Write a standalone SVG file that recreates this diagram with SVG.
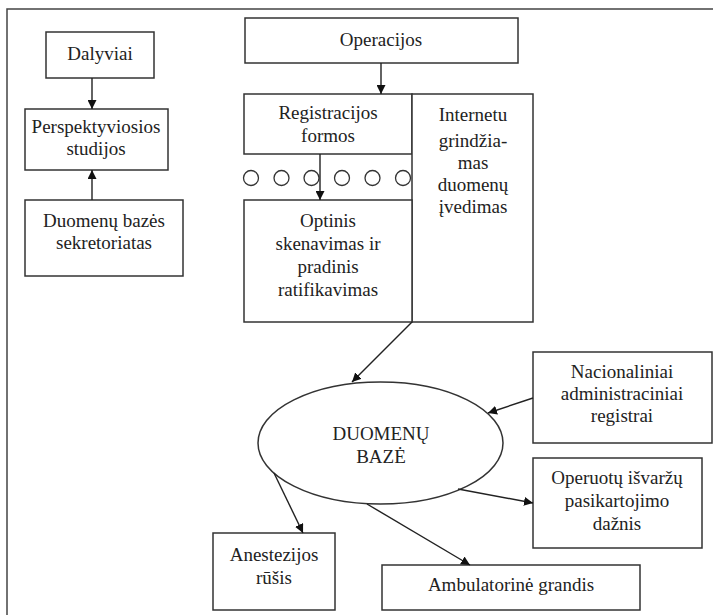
<svg xmlns="http://www.w3.org/2000/svg" width="713" height="615" viewBox="0 0 713 615">
<defs>
<marker id="ah" viewBox="0 0 10 10" refX="10" refY="5" markerWidth="9" markerHeight="9" markerUnits="userSpaceOnUse" orient="auto">
<path d="M0,0 L10,5 L0,10 z" fill="#111"/>
</marker>
</defs>
<rect width="713" height="615" fill="#fff"/>
<path d="M7,615 V9 H713" fill="none" stroke="#444" stroke-width="1.5"/>
<g fill="#fff" stroke="#333" stroke-width="1.5">
<g id="dalyviai"><rect x="46" y="32" width="108" height="46"/><text font-family="Liberation Serif" font-size="19" text-anchor="middle" fill="#222" stroke="none" x="100" y="60">Dalyviai</text></g>
<g id="perspektyviosios"><rect x="25" y="109" width="143" height="61"/><text font-family="Liberation Serif" font-size="19" text-anchor="middle" fill="#222" stroke="none" x="96" y="133">Perspektyviosios</text><text font-family="Liberation Serif" font-size="19" text-anchor="middle" fill="#222" stroke="none" x="96" y="155">studijos</text></g>
<g id="sekretoriatas"><rect x="25" y="200" width="158" height="76"/><text font-family="Liberation Serif" font-size="19" text-anchor="middle" fill="#222" stroke="none" x="104" y="227">Duomenų bazės</text><text font-family="Liberation Serif" font-size="19" text-anchor="middle" fill="#222" stroke="none" x="104" y="249">sekretoriatas</text></g>
<g id="operacijos"><rect x="245" y="18" width="273" height="45"/><text font-family="Liberation Serif" font-size="19" text-anchor="middle" fill="#222" stroke="none" x="381" y="46">Operacijos</text></g>
<g id="registracijos"><rect x="244" y="94" width="168" height="60"/><text font-family="Liberation Serif" font-size="19" text-anchor="middle" fill="#222" stroke="none" x="328" y="119">Registracijos</text><text font-family="Liberation Serif" font-size="19" text-anchor="middle" fill="#222" stroke="none" x="328" y="142">formos</text></g>
<g id="internetu"><rect x="412" y="94" width="121" height="228"/><text font-family="Liberation Serif" font-size="19" text-anchor="middle" fill="#222" stroke="none" x="473" y="121">Internetu</text><text font-family="Liberation Serif" font-size="19" text-anchor="middle" fill="#222" stroke="none" x="473" y="147">grindžia-</text><text font-family="Liberation Serif" font-size="19" text-anchor="middle" fill="#222" stroke="none" x="473" y="169">mas</text><text font-family="Liberation Serif" font-size="19" text-anchor="middle" fill="#222" stroke="none" x="473" y="191">duomenų</text><text font-family="Liberation Serif" font-size="19" text-anchor="middle" fill="#222" stroke="none" x="473" y="213">įvedimas</text></g>
<g id="juosta" fill="none" stroke-width="1.3">
<circle cx="251" cy="178" r="7.5"/><circle cx="281.5" cy="178" r="7.5"/><circle cx="311.5" cy="178" r="7.5"/><circle cx="342" cy="178" r="7.5"/><circle cx="372.5" cy="178" r="7.5"/><circle cx="403" cy="178" r="7.5"/>
</g>
<g id="optinis"><rect x="244" y="200" width="168" height="122"/><text font-family="Liberation Serif" font-size="19" text-anchor="middle" fill="#222" stroke="none" x="328" y="227">Optinis</text><text font-family="Liberation Serif" font-size="19" text-anchor="middle" fill="#222" stroke="none" x="328" y="250">skenavimas ir</text><text font-family="Liberation Serif" font-size="19" text-anchor="middle" fill="#222" stroke="none" x="328" y="273">pradinis</text><text font-family="Liberation Serif" font-size="19" text-anchor="middle" fill="#222" stroke="none" x="328" y="296">ratifikavimas</text></g>
<g id="duomenu-baze"><ellipse cx="380.5" cy="443" rx="122.5" ry="61"/><text font-family="Liberation Serif" font-size="19" text-anchor="middle" fill="#222" stroke="none" x="381" y="440">DUOMENŲ</text><text font-family="Liberation Serif" font-size="19" text-anchor="middle" fill="#222" stroke="none" x="381" y="463">BAZĖ</text></g>
<g id="nacionaliniai"><rect x="533" y="352" width="179" height="91"/><text font-family="Liberation Serif" font-size="19" text-anchor="middle" fill="#222" stroke="none" x="622" y="378">Nacionaliniai</text><text font-family="Liberation Serif" font-size="19" text-anchor="middle" fill="#222" stroke="none" x="622" y="400">administraciniai</text><text font-family="Liberation Serif" font-size="19" text-anchor="middle" fill="#222" stroke="none" x="622" y="422">registrai</text></g>
<g id="operuotu"><rect x="533" y="458" width="169" height="90"/><text font-family="Liberation Serif" font-size="19" text-anchor="middle" fill="#222" stroke="none" x="617" y="484">Operuotų išvaržų</text><text font-family="Liberation Serif" font-size="19" text-anchor="middle" fill="#222" stroke="none" x="617" y="507">pasikartojimo</text><text font-family="Liberation Serif" font-size="19" text-anchor="middle" fill="#222" stroke="none" x="617" y="530">dažnis</text></g>
<g id="ambulatorine"><rect x="382" y="565" width="258" height="45"/><text font-family="Liberation Serif" font-size="19" text-anchor="middle" fill="#222" stroke="none" x="511" y="591">Ambulatorinė grandis</text></g>
<g id="anestezijos"><rect x="213" y="533" width="122" height="77"/><text font-family="Liberation Serif" font-size="19" text-anchor="middle" fill="#222" stroke="none" x="274" y="561">Anestezijos</text><text font-family="Liberation Serif" font-size="19" text-anchor="middle" fill="#222" stroke="none" x="274" y="584">rūšis</text></g>
</g>
<g id="connectors" fill="none" stroke="#222" stroke-width="1.4">
<line x1="92" y1="78" x2="92" y2="109" marker-end="url(#ah)"/>
<line x1="92" y1="200" x2="92" y2="170" marker-end="url(#ah)"/>
<line x1="381" y1="63" x2="381" y2="94" marker-end="url(#ah)"/>
<line x1="320" y1="154" x2="320" y2="200" marker-end="url(#ah)"/>
<line x1="412" y1="322" x2="352" y2="382" marker-end="url(#ah)"/>
<line x1="533" y1="398" x2="488" y2="413" marker-end="url(#ah)"/>
<line x1="458" y1="489" x2="533" y2="503" marker-end="url(#ah)"/>
<line x1="367" y1="504" x2="470" y2="565" marker-end="url(#ah)"/>
<line x1="274" y1="473" x2="303" y2="533" marker-end="url(#ah)"/>
</g>
</svg>
